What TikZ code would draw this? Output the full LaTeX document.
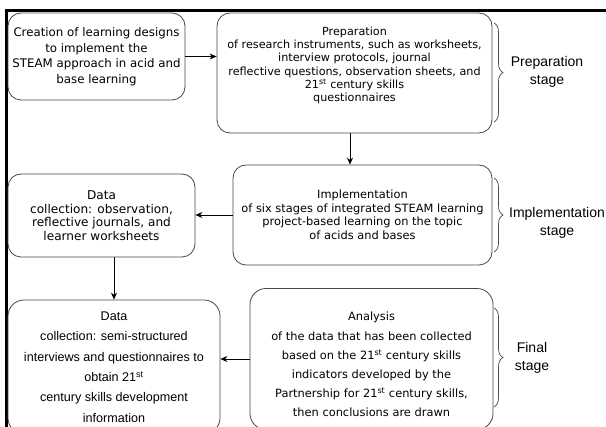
\documentclass[tikz,border=0pt]{standalone}
\usepackage{fontspec}
\setmainfont{DejaVu Sans}
\newfontfamily\arialfont{Liberation Sans}
\usetikzlibrary{arrows.meta,decorations.pathreplacing}

\begin{document}
\begin{tikzpicture}[x=1pt,y=-1pt,>={Stealth[length=7pt,width=6pt]},stepbox/.style={draw=gray!55!black,line width=0.8pt,rounded corners=13pt,align=center,inner sep=1pt},flow/.style={->,line width=0.8pt},stagebrace/.style={decorate,decoration={brace,amplitude=9pt},draw=gray!60!black,line width=0.7pt},stagelbl/.style={font=\arialfont\fontsize{14}{18}\selectfont,align=center}]
\clip (0,0) rectangle (606,427);
% outer frame, only top and left edges show
\draw[line width=3pt] (606,11)--(6.5,11)--(6.5,427);
% steps of the study
\node[stepbox,minimum width=177pt,minimum height=87pt,font=\fontsize{11.8}{15.5}\selectfont] (create) at (96.5,56.5) {Creation of learning designs\\to implement the\\STEAM approach in acid and\\base learning};
\node[stepbox,minimum width=275pt,minimum height=120pt,font=\fontsize{11.2}{13.3}\selectfont] (prep) at (354.5,73) {Preparation\\of research instruments, such as worksheets,\\interview protocols, journal\\reflective questions, observation sheets, and\\21\textsuperscript{st} century skills\\questionnaires\\[4pt]};
\node[stepbox,minimum width=259pt,minimum height=100pt,font=\fontsize{11.4}{13.5}\selectfont] (impl) at (362.5,215) {Implementation\\of six stages of integrated STEAM learning\\project-based learning on the topic\\of acids and bases};
\node[stepbox,minimum width=187pt,minimum height=83pt,font=\fontsize{12.1}{13.5}\selectfont] (obs) at (101.5,215.5) {Data\\collection: observation,\\reflective journals, and\\learner worksheets};
\node[stepbox,minimum width=212pt,minimum height=134pt,rounded corners=16pt,font=\arialfont\fontsize{12.6}{20.4}\selectfont] (intv) at (114,367) {Data\\collection: semi-structured\\interviews and questionnaires to\\obtain 21\textsuperscript{st}\\century skills development\\information};
\node[stepbox,minimum width=243pt,minimum height=141pt,rounded corners=16pt,font=\fontsize{11.4}{19.2}\selectfont] (anal) at (371.5,359) {\rule{0pt}{20pt}Analysis\\of the data that has been collected\\based on the 21\textsuperscript{st} century skills\\indicators developed by the\\Partnership for 21\textsuperscript{st} century skills,\\then conclusions are drawn};
% flow between the steps
\draw[flow] (create.east)--(create.east -| prep.west);
\draw[flow] (prep.south -| 350,0)--(impl.north -| 350,0);
\draw[flow] (impl.west)--(impl.west -| obs.east);
\draw[flow] (intv.north |- obs.south)--(intv.north);
\draw[flow] (anal.west)--(anal.west -| intv.east);
% stages
\draw[stagebrace] (494,23)--(494,122);\node[stagelbl] (s1) at (547,72) {Preparation\\stage};
\draw[stagebrace] (494,178)--(494,252);\node[stagelbl] (s2) at (557,223) {Implementation\\stage};
\draw[stagebrace] (494,308)--(494,407);\node[stagelbl] (s3) at (532,358) {Final\\stage};
\end{tikzpicture}
\end{document}
